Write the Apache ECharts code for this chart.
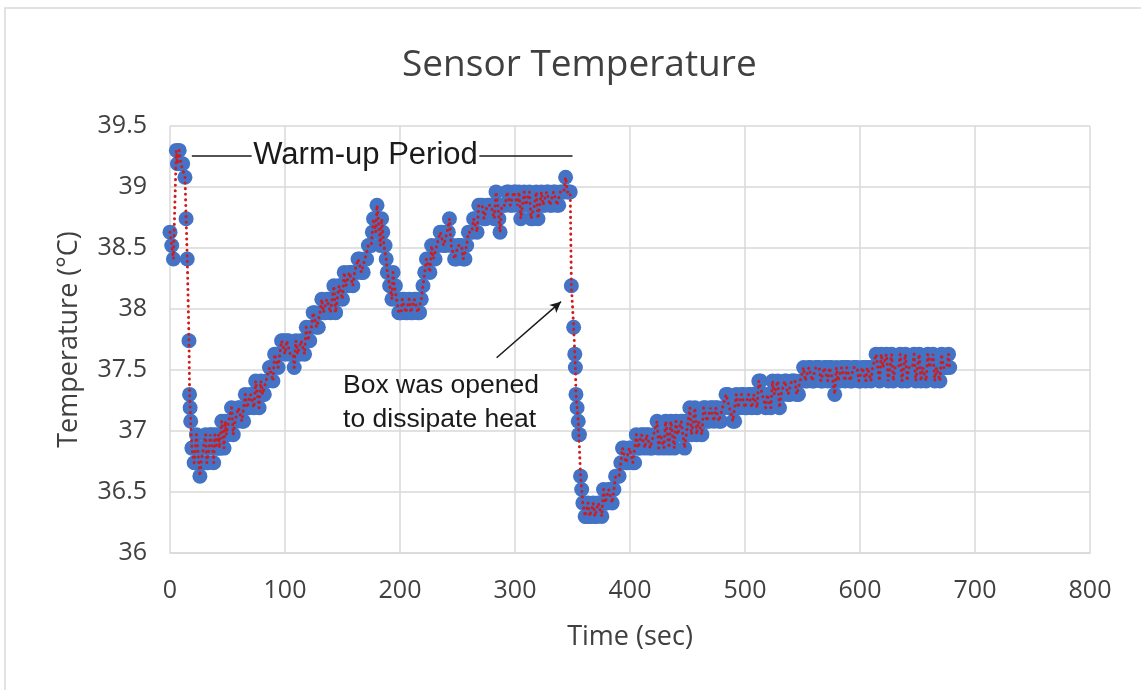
<!DOCTYPE html>
<html>
<head>
<meta charset="utf-8">
<script src="https://cdn.jsdelivr.net/npm/echarts@6/dist/echarts.min.js"></script>
<style>html,body{margin:0;padding:0;background:#fff}#c{width:1141px;height:690px}</style>
</head>
<body>
<div id="c"></div>
<script>
// ---- data (time in seconds, temperature in °C) ----
const chartTitle = 'Sensor Temperature';
const xAxisTitle = 'Time (sec)';
const yAxisTitle = 'Temperature (\u00B0C)';
const xTicks = [0, 100, 200, 300, 400, 500, 600, 700, 800];
const yTicks = [36, 36.5, 37, 37.5, 38, 38.5, 39, 39.5];

const warmup = [
  [0,38.63],[1.5,38.52],[3,38.41],[5.5,39.30],[6.5,39.19],[8,39.30],[9.5,39.19],[11,39.19],
  [13,39.08],[14,38.74],[15,38.41],[16.5,37.74],[17,37.30],[17.5,37.19],[18,37.08],[19,36.86]
];
const firstRise = [
  [20,36.86],[22,36.74],[24,36.86],[26,36.63],[28,36.74],[30,36.86],[32,36.74],[34,36.86],
  [36,36.97],[38,36.74],[40,36.86],[42,36.97],[44,36.86],[46,36.97],[48,37.08],[50,36.97],
  [52,37.08],[55,36.97],[58,37.08],[61,37.19],[64,37.08],[67,37.19],[70,37.30],[73,37.19],
  [76,37.30],[79,37.41],[82,37.30],[85,37.41],[88,37.52],[91,37.63],[94,37.52],[97,37.74],
  [100,37.63],[103,37.74],[106,37.63],[108,37.52],[111,37.63],[114,37.74],[117,37.63],[120,37.74],
  [123,37.85],[126,37.97],[129,37.85],[132,38.08],[135,37.97],[138,38.08],[141,38.08],[144,37.97],
  [147,38.19],[150,38.08],[153,38.19],[156,38.30],[159,38.19],[162,38.30],[165,38.41],[168,38.30],
  [171,38.41],[174,38.52],[176,38.63],[178,38.74],[180,38.85],[182,38.63],[184,38.74],[186,38.52],
  [188,38.41],[190,38.30],[192,38.19],[194,38.30],[196,38.19],[198,38.08],[200,37.97],[202,38.08],
  [205,37.97],[208,38.08],[211,37.97],[214,38.08],[217,37.97]
];
const firstRiseB = [
  [21,36.74],[23,36.97],[25,36.74],[27,36.74],[29,36.86],[31,36.97],[33,36.74],[35,36.97],
  [37,36.86],[39,36.97],[41,36.86],[43,36.86],[45,37.08],[47,36.86],[49,36.97],[51,37.08],
  [53.5,37.19],[56.5,37.08],[59.5,37.19],[62.5,37.08],[65.5,37.30],[68.5,37.19],[71.5,37.30],[74.5,37.41],
  [77.5,37.19],[80.5,37.30],[83.5,37.41],[86.5,37.52],[89.5,37.41],[92.5,37.63],[95.5,37.63],[98.5,37.74],
  [101.5,37.74],[104.5,37.63],[107,37.63],[109.5,37.74],[112.5,37.63],[115.5,37.74],[118.5,37.85],[121.5,37.74],
  [124.5,37.97],[127.5,37.85],[130.5,37.97],[133.5,37.97],[136.5,38.08],[139.5,37.97],[142.5,38.19],[145.5,38.08],
  [148.5,38.19],[151.5,38.30],[154.5,38.19],[157.5,38.30],[160.5,38.30],[163.5,38.41],[166.5,38.30],[169.5,38.41],
  [172.5,38.52],[175,38.52],[177,38.74],[179,38.63],[181,38.74],[183,38.52],[185,38.63],[187,38.52],
  [189,38.30],[191,38.19],[193,38.08],[195,38.19],[197,38.08],[199,37.97],[201,37.97],[203.5,38.08],
  [206.5,37.97],[209.5,37.97],[212.5,38.08],[215.5,37.97],[218.5,38.08]
];
const secondRise = [
  [220,38.19],[223,38.41],[226,38.30],[229,38.41],[232,38.52],[235,38.63],[238,38.52],[241,38.63],
  [243,38.74],[246,38.52],[249,38.41],[252,38.52],[255,38.41],[258,38.52],[261,38.63],[264,38.74],
  [267,38.63],[270,38.85],[273,38.74],[276,38.85],[279,38.85],[282,38.74],[285,38.85],[287,38.63],
  [290,38.85],[293,38.96],[296,38.85],[299,38.96],[302,38.85],[305,38.74],[308,38.96],[311,38.85],
  [314,38.74],[317,38.85],[320,38.74],[323,38.96],[326,38.85],[329,38.96],[332,38.85],[335,38.96],
  [338,38.85],[341,38.96],[344,39.08],[347,38.96]
];
const secondRiseB = [
  [221.5,38.30],[224.5,38.41],[227.5,38.52],[230.5,38.41],[233.5,38.52],[236.5,38.63],[239.5,38.52],[242,38.63],
  [244.5,38.52],[247.5,38.41],[250.5,38.52],[253.5,38.52],[256.5,38.41],[259.5,38.63],[262.5,38.63],[265.5,38.74],
  [268.5,38.85],[271.5,38.85],[274.5,38.74],[277.5,38.85],[280.5,38.85],[283.5,38.96],[286,38.74],[288.5,38.85],
  [291.5,38.85],[294.5,38.96],[297.5,38.85],[300.5,38.96],[303.5,38.96],[306.5,38.85],[309.5,38.85],[312.5,38.96],
  [315.5,38.74],[318.5,38.96],[321.5,38.85],[324.5,38.85],[327.5,38.96],[330.5,38.85],[333.5,38.96],[336.5,38.85],
  [339.5,38.96],[342.5,38.96],[345.5,38.96],[348,38.96]
];
const boxOpened = [
  [349,38.19],[351,37.85],[352,37.63],[352.5,37.52],[353,37.30],[354,37.19],[355,37.08],[355.5,36.97],
  [356,36.97],[357,36.63],[358,36.52],[359,36.41],[360,36.41],[361,36.30],[362,36.30],[363.5,36.41],
  [365,36.30],[366.5,36.30],[368,36.41],[369.5,36.30],[371,36.30],[372.5,36.41],[374,36.41],[375.5,36.30],
  [377,36.52],[378.5,36.41],[380,36.41],[381.5,36.52],[383,36.52],[384.5,36.41],[386,36.52],[387.5,36.63],
  [389,36.63],[390.5,36.63]
];
const recovery = [
  [392,36.74],[395,36.86],[398,36.74],[401,36.86],[404,36.74],[407,36.86],[410,36.97],[413,36.86],
  [416,36.97],[419,36.86],[422,36.97],[425,36.86],[428,36.97],[431,37.08],[434,36.86],[437,36.97],
  [440,37.08],[443,36.97],[446,37.08],[449,36.97],[452,37.19],[455,37.08],[458,36.97],[461,37.08],
  [464,37.19],[467,37.08],[470,37.19],[473,37.08],[476,37.19],[479,37.08],[482,37.19],[485,37.30],
  [488,37.19],[491,37.08],[494,37.19],[497,37.30],[500,37.19],[503,37.30],[506,37.19],[509,37.30],
  [512,37.41],[515,37.30],[518,37.19],[521,37.30],[524,37.41],[527,37.30],[530,37.19],[533,37.30],
  [536,37.41],[539,37.30],[542,37.41],[545,37.30],[548,37.41],[551,37.52],[554,37.41],[557,37.52],
  [560,37.41],[563,37.52],[566,37.41],[569,37.52],[572,37.41],[575,37.52],[578,37.30],[581,37.41],
  [584,37.52],[587,37.41],[590,37.52],[593,37.41],[596,37.52],[599,37.41],[602,37.52],[605,37.41],
  [608,37.52],[611,37.52],[614,37.63],[617,37.41],[620,37.52],[623,37.63],[626,37.52],[629,37.41],
  [632,37.52],[635,37.63],[638,37.52],[641,37.41],[644,37.52],[647,37.63],[650,37.52],[653,37.41],
  [656,37.52],[659,37.63],[662,37.52],[665,37.41],[668,37.52],[671,37.63],[674,37.52],[677,37.63],
  [678,37.52]
];
const recoveryB = [
  [393.5,36.86],[396.5,36.74],[399.5,36.86],[402.5,36.74],[405.5,36.97],[408.5,36.86],[411.5,36.97],[414.5,36.97],
  [417.5,36.86],[420.5,36.97],[423.5,37.08],[426.5,36.97],[429.5,36.86],[432.5,36.97],[435.5,37.08],[438.5,36.86],
  [441.5,36.97],[444.5,37.08],[447.5,36.86],[450.5,37.08],[453.5,36.97],[456.5,37.19],[459.5,37.08],[462.5,36.97],
  [465.5,37.19],[468.5,37.08],[471.5,37.19],[474.5,37.19],[477.5,37.08],[480.5,37.19],[483.5,37.30],[486.5,37.19],
  [489.5,37.08],[492.5,37.30],[495.5,37.19],[498.5,37.30],[501.5,37.19],[504.5,37.30],[507.5,37.30],[510.5,37.19],
  [513.5,37.41],[516.5,37.30],[519.5,37.30],[522.5,37.19],[525.5,37.30],[528.5,37.41],[531.5,37.30],[534.5,37.41],
  [537.5,37.30],[540.5,37.41],[543.5,37.41],[546.5,37.30],[549.5,37.41],[552.5,37.41],[555.5,37.52],[558.5,37.41],
  [561.5,37.52],[564.5,37.52],[567.5,37.41],[570.5,37.52],[573.5,37.52],[576.5,37.41],[579.5,37.52],[582.5,37.41],
  [585.5,37.52],[588.5,37.52],[591.5,37.41],[594.5,37.52],[597.5,37.52],[600.5,37.41],[603.5,37.52],[606.5,37.52],
  [609.5,37.41],[612.5,37.52],[615.5,37.52],[618.5,37.63],[621.5,37.52],[624.5,37.41],[627.5,37.63],[630.5,37.52],
  [633.5,37.52],[636.5,37.41],[639.5,37.63],[642.5,37.52],[645.5,37.52],[648.5,37.41],[651.5,37.63],[654.5,37.52],
  [657.5,37.41],[660.5,37.52],[663.5,37.63],[666.5,37.52],[669.5,37.41],[672.5,37.52],[675.5,37.52]
];
const readings = [].concat(warmup, firstRise, firstRiseB, secondRise, secondRiseB, boxOpened, recovery, recoveryB)
  .sort(function (a, b) { return a[0] - b[0]; });

// annotation anchors (data coordinates)
const warmupLabel = { text: 'Warm-up Period', at: [170, 39.26], lines: [[[19, 39.26], [71, 39.26]], [[269, 39.26], [350, 39.26]]] };
const boxLabel = { lines: ['Box was opened', 'to dissipate heat'], at: [150.5, 37.51] };
const arrow = [[284, 37.6], [340, 38.06]];

const chart = echarts.init(document.getElementById('c'));
const FONT = '"Open Sans", sans-serif';
const gridColor = '#d9d9d9';

chart.setOption({
  animation: false,
  title: {
    text: chartTitle, left: 397, top: 42,
    textStyle: { fontFamily: FONT, fontSize: 37, fontWeight: 'normal', color: '#404040' }
  },
  grid: { left: 170, right: 51, top: 126, bottom: 137 },
  xAxis: {
    type: 'value', min: xTicks[0], max: xTicks[xTicks.length - 1], interval: 100,
    name: xAxisTitle, nameLocation: 'middle', nameGap: 71,
    nameTextStyle: { fontFamily: FONT, fontSize: 27, color: '#404040' },
    axisLine: { lineStyle: { color: gridColor, width: 1.5 } },
    axisTick: { show: false },
    axisLabel: { fontFamily: FONT, fontSize: 25, color: '#404040', margin: 25 },
    splitLine: { show: true, lineStyle: { color: gridColor, width: 1.5 } }
  },
  yAxis: {
    type: 'value', min: yTicks[0], max: yTicks[yTicks.length - 1], interval: 0.5,
    name: yAxisTitle, nameLocation: 'middle', nameGap: 87, nameRotate: 90,
    nameTextStyle: { fontFamily: FONT, fontSize: 27, color: '#404040' },
    axisLine: { show: false },
    axisTick: { show: false },
    axisLabel: { fontFamily: FONT, fontSize: 25, color: '#404040', margin: 23 },
    splitLine: { show: true, lineStyle: { color: gridColor, width: 1.5 } }
  },
  series: [
    {
      type: 'scatter', data: readings, symbolSize: 15, z: 2,
      itemStyle: { color: '#4472c4', opacity: 1 },
      markLine: {
        silent: true, animation: false, label: { show: false },
        symbol: ['none', 'none'],
        lineStyle: { color: '#1a1a1a', width: 1.5, type: 'solid' },
        emphasis: { disabled: true },
        data: [
          [{ coord: warmupLabel.lines[0][0] }, { coord: warmupLabel.lines[0][1] }],
          [{ coord: warmupLabel.lines[1][0] }, { coord: warmupLabel.lines[1][1] }],
          [{ coord: arrow[0], symbol: 'none' }, { coord: arrow[1], symbol: 'arrow', symbolSize: [8, 11] }]
        ]
      }
    },
    {
      type: 'line', data: readings, showSymbol: false, symbol: 'none', z: 3,
      lineStyle: { color: '#d01c1c', width: 3, type: [0.1, 5.5], cap: 'round' }
    }
  ]
});

function px(p) { return chart.convertToPixel({ gridIndex: 0 }, p); }
const w = px(warmupLabel.at);
const b = px(boxLabel.at);
chart.setOption({
  graphic: [
    { type: 'rect', shape: { x: 5, y: 8, width: 1200, height: 800 }, style: { fill: 'none', stroke: '#d9d9d9', lineWidth: 1.5 }, silent: true },
    { type: 'text', x: w[0], y: w[1], z: 10, style: { text: warmupLabel.text, fontFamily: '"Liberation Sans", Arial, sans-serif', fontSize: 31, fill: '#1a1a1a', align: 'center', verticalAlign: 'middle' } },
    { type: 'text', x: b[0], y: b[1], z: 10, style: { text: boxLabel.lines.join('\n'), fontFamily: '"Liberation Sans", Arial, sans-serif', fontSize: 26.5, lineHeight: 34, fill: '#1a1a1a', align: 'left', verticalAlign: 'top' } }
  ]
});
</script>
</body>
</html>
